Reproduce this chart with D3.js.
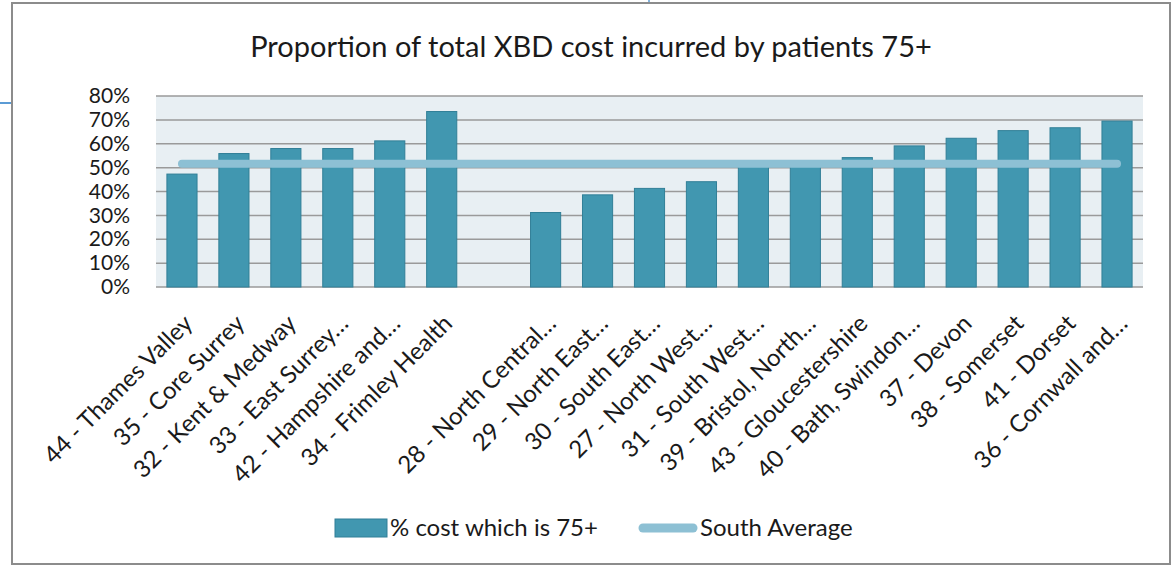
<!DOCTYPE html>
<html>
<head>
<meta charset="utf-8">
<script src="https://cdn.jsdelivr.net/npm/d3@7"></script>
<style>
  body { margin: 0; background: #fff; }
  svg text { font-family: Lato, "Open Sans", sans-serif; fill: #1a1a1a; }
</style>
</head>
<body>
<div id="chart"></div>
<script>
// categories (blank slot separates the two groups)
var categories = ["44 - Thames Valley", "35 - Core Surrey", "32 - Kent & Medway", "33 - East Surrey\u2026",
  "42 - Hampshire and\u2026", "34 - Frimley Health", "", "28 - North Central\u2026", "29 - North East\u2026",
  "30 - South East\u2026", "27 - North West\u2026", "31 - South West\u2026", "39 - Bristol, North\u2026",
  "43 - Gloucestershire", "40 - Bath, Swindon\u2026", "37 - Devon", "38 - Somerset", "41 - Dorset",
  "36 - Cornwall and\u2026"];
// % cost which is 75+
var costValues = [47.3, 55.9, 58.0, 58.0, 61.2, 73.5, null, 31.2, 38.6, 41.3, 44.1, 50.5, 51.5,
  54.2, 59.1, 62.3, 65.5, 66.7, 69.5];
var southAverage = 51.6;
var yTicks = [0, 10, 20, 30, 40, 50, 60, 70, 80];

var W = 1173, H = 566;
var margin = { top: 96, right: 30, bottom: 279, left: 156 },
  width = W - margin.left - margin.right,
  height = H - margin.top - margin.bottom;

var svg = d3.select("#chart").append("svg")
  .attr("width", W)
  .attr("height", H);

// screenshot leftovers + chart frame
svg.append("line").attr("x1", 0).attr("x2", 12).attr("y1", 103).attr("y2", 103)
  .style("stroke", "#5b9bd5").style("stroke-width", 2);
svg.append("line").attr("x1", 649).attr("x2", 649).attr("y1", 0).attr("y2", 3)
  .style("stroke", "#5b9bd5").style("stroke-width", 1.5);
svg.append("rect")
  .attr("x", 12).attr("y", 3).attr("width", 1158).attr("height", 561)
  .style("fill", "#fff").style("stroke", "#8c8c8c").style("stroke-width", 2);

svg.append("text")
  .attr("x", 591).attr("y", 57)
  .attr("text-anchor", "middle")
  .attr("font-size", "29px")
  .text("Proportion of total XBD cost incurred by patients 75+");

var g = svg.append("g")
  .attr("transform", "translate(" + margin.left + "," + margin.top + ")");

var x = d3.scaleBand()
  .domain(d3.range(categories.length))
  .range([0, width])
  .paddingInner(0.42)
  .paddingOuter(0.21);

var y = d3.scaleLinear().domain([0, 80]).range([height, 0]);

// plot area background
g.append("rect")
  .attr("width", width).attr("height", height)
  .style("fill", "#e8eff3");

// gridlines
g.selectAll(".grid")
  .data(yTicks)
  .enter().append("line")
  .attr("class", "grid")
  .attr("x1", 0).attr("x2", width)
  .attr("y1", function (d) { return y(d); })
  .attr("y2", function (d) { return y(d); })
  .style("stroke", "#9a9a9a")
  .style("stroke-width", 1.5);

// y axis labels
var yAxis = g.append("g")
  .call(d3.axisLeft(y).tickValues(yTicks).tickSize(0).tickPadding(26)
    .tickFormat(function (d) { return d + "%"; }));
yAxis.select(".domain").remove();
yAxis.selectAll("text").attr("font-size", "21px").style("font-family", "Lato, 'Open Sans', sans-serif");

// bars
g.selectAll(".bar")
  .data(costValues.map(function (v, i) { return { i: i, v: v }; })
    .filter(function (d) { return d.v !== null; }))
  .enter().append("rect")
  .attr("class", "bar")
  .attr("x", function (d) { return x(d.i); })
  .attr("y", function (d) { return y(d.v); })
  .attr("width", x.bandwidth())
  .attr("height", function (d) { return height - y(d.v); })
  .style("fill", "#4197b0")
  .style("stroke", "#317f97")
  .style("stroke-width", 1);

// south average line
var avgLine = d3.line()
  .x(function (d) { return x(d) + x.bandwidth() / 2; })
  .y(function () { return y(southAverage); });
g.append("path")
  .datum([0, categories.length - 1])
  .attr("d", avgLine)
  .style("fill", "none")
  .style("stroke", "#8dc0d4")
  .style("stroke-width", 8)
  .style("stroke-linecap", "round");

// x axis labels
var xAxis = g.append("g")
  .attr("transform", "translate(0," + height + ")")
  .call(d3.axisBottom(x).tickSize(0).tickFormat(function (i) { return categories[i]; }));
xAxis.select(".domain").remove();
xAxis.selectAll("text")
  .attr("font-size", "24px")
  .style("font-family", "Lato, 'Open Sans', sans-serif")
  .attr("text-anchor", "end")
  .attr("dy", null)
  .attr("y", 0)
  .attr("transform", "translate(12,38) rotate(-45)");

// legend
var legend = svg.append("g").attr("font-size", "24px");
legend.append("rect")
  .attr("x", 335).attr("y", 519).attr("width", 52).attr("height", 18)
  .style("fill", "#4197b0").style("stroke", "#317f97");
legend.append("text").attr("x", 390).attr("y", 536).text("% cost which is 75+");
legend.append("line")
  .attr("x1", 643).attr("x2", 693).attr("y1", 528).attr("y2", 528)
  .style("stroke", "#8dc0d4").style("stroke-width", 9).style("stroke-linecap", "round");
legend.append("text").attr("x", 700).attr("y", 536).text("South Average");
</script>
</body>
</html>
